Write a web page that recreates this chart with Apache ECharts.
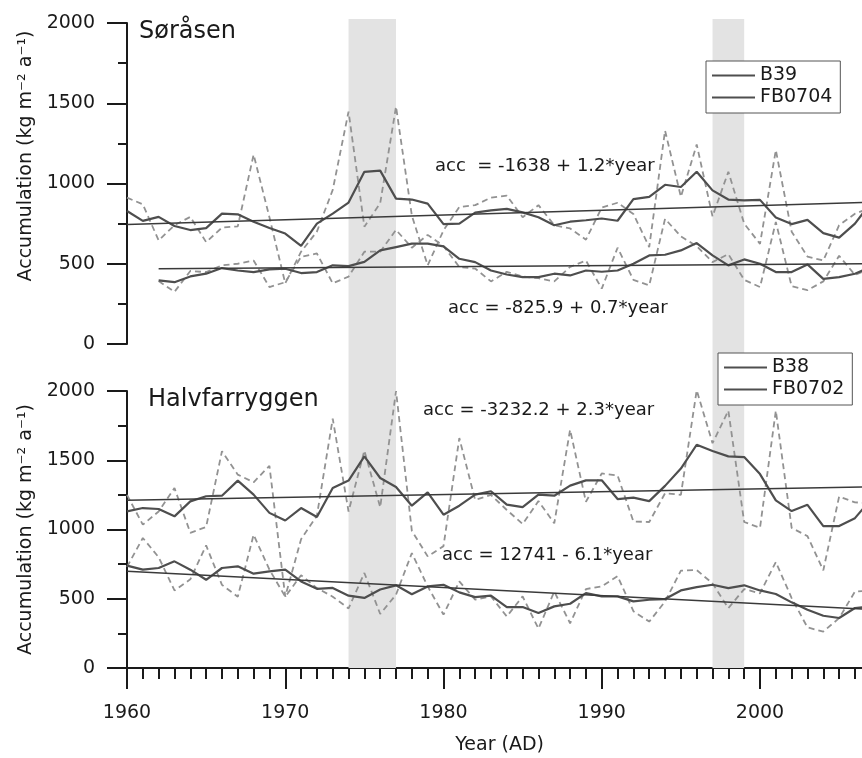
<!DOCTYPE html>
<html>
<head>
<meta charset="utf-8">
<script src="https://cdn.jsdelivr.net/npm/echarts/dist/echarts.min.js"></script>
<style>
  html, body { margin: 0; padding: 0; background: #fff; }
  #chart { width: 862px; height: 758px; }
</style>
</head>
<body>
<div id="chart"></div>
<script>
// years 1960-2007 (the last year runs off the right edge)
var years = [1960, 1961, 1962, 1963, 1964, 1965, 1966, 1967, 1968, 1969,
             1970, 1971, 1972, 1973, 1974, 1975, 1976, 1977, 1978, 1979,
             1980, 1981, 1982, 1983, 1984, 1985, 1986, 1987, 1988, 1989,
             1990, 1991, 1992, 1993, 1994, 1995, 1996, 1997, 1998, 1999,
             2000, 2001, 2002, 2003, 2004, 2005, 2006, 2007];

// Søråsen
var sorasenB39 = [829, 767, 792, 735, 710, 722, 812, 808, 762, 723,
                  688, 612, 750, 812, 881, 1073, 1080, 906, 900, 875,
                  747, 750, 818, 832, 842, 820, 790, 740, 762, 771,
                  782, 768, 903, 917, 992, 978, 1073, 957, 900, 895,
                  898, 788, 747, 773, 691, 663, 750, 880];
var sorasenB39Annual = [912, 870, 645, 740, 792, 635, 725, 733, 1180, 790,
                        378, 575, 700, 960, 1448, 731, 877, 1479, 800, 490,
                        708, 854, 865, 912, 925, 790, 865, 740, 720, 650,
                        850, 880, 810, 604, 1330, 917, 1243, 795, 1073, 750,
                        624, 1208, 700, 545, 520, 740, 812, 850];
var sorasenFB0704 = [null, null, 396, 385, 421, 438, 473, 458, 448, 465,
                     469, 442, 448, 490, 485, 512, 583, 604, 625, 625,
                     608, 531, 510, 458, 433, 417, 417, 438, 427, 458,
                     450, 458, 500, 552, 556, 583, 629, 552, 490, 527,
                     500, 448, 448, 496, 406, 417, 438, 480];
var sorasenFB0704Annual = [null, null, 392, 325, 455, 448, 490, 500, 520, 355,
                           385, 543, 564, 378, 420, 575, 575, 711, 600, 680,
                           610, 480, 470, 390, 450, 420, 410, 390, 480, 520,
                           345, 600, 400, 365, 780, 670, 610, 510, 560, 400,
                           355, 760, 360, 335, 390, 550, 430, 470];
var sorasenTrendB39 = [[1960, 744], [2007, 883]];
var sorasenTrendFB0704 = [[1962, 469], [2007, 500]];

// Halvfarryggen
var halvB38 = [1131, 1155, 1148, 1095, 1203, 1240, 1244, 1353, 1252, 1120,
               1065, 1155, 1090, 1300, 1353, 1528, 1372, 1307, 1172, 1268,
               1107, 1172, 1252, 1276, 1179, 1162, 1252, 1244, 1317, 1355,
               1355, 1220, 1230, 1205, 1315, 1440, 1612, 1567, 1528, 1523,
               1400, 1210, 1133, 1178, 1025, 1025, 1082, 1215];
var halvB38Annual = [1250, 1035, 1130, 1300, 976, 1018, 1565, 1396, 1341, 1460,
                     515, 930, 1100, 1800, 1130, 1570, 1160, 2000, 990, 806,
                     880, 1660, 1213, 1249, 1141, 1040, 1205, 1045, 1720, 1200,
                     1405, 1390, 1058, 1054, 1262, 1250, 2005, 1623, 1858, 1054,
                     1012, 1858, 1012, 952, 705, 1238, 1196, 1190];
var halvFB0702 = [739, 710, 722, 770, 710, 637, 722, 734, 681, 698,
                  710, 625, 572, 578, 522, 506, 567, 597, 532, 589,
                  601, 546, 512, 522, 440, 440, 397, 445, 464, 541,
                  517, 517, 481, 493, 498, 560, 584, 601, 577, 597,
                  560, 534, 474, 421, 377, 361, 433, 445];
var halvFB0702Annual = [730, 939, 800, 560, 640, 885, 600, 515, 962, 710,
                        515, 670, 577, 515, 430, 686, 390, 530, 830, 589,
                        385, 625, 493, 517, 372, 517, 284, 552, 323, 570,
                        590, 663, 410, 335, 480, 703, 707, 611, 432, 570,
                        539, 765, 505, 293, 263, 360, 552, 560];
var halvTrendB38 = [[1960, 1211], [2007, 1308]];
var halvTrendFB0702 = [[1960, 698], [2007, 423]];

// shaded periods
var bands = [[1974, 1977], [1997, 1999]];

var FONT = 'DejaVu Sans';
var INK = '#1a1a1a';
var MEAN = '#4e4e4e';

var chart = echarts.init(document.getElementById('chart'), null, {renderer: 'canvas'});

function pairs(vals) {
    return years.map(function (y, i) { return [y, vals[i]]; });
}

function plain(v) {
    return String(v);
}

function line(name, data, idx, kind) {
    var styles = {
        annual: {color: '#929292', width: 1.8, type: [6, 4]},
        mean:   {color: MEAN, width: 2.2},
        trend:  {color: '#3a3a3a', width: 1.5}
    };
    return {
        name: name,
        type: 'line',
        xAxisIndex: idx,
        yAxisIndex: idx,
        data: data,
        symbol: 'none',
        silent: true,
        z: kind === 'annual' ? 2 : 3,
        lineStyle: styles[kind],
        itemStyle: {color: styles[kind].color}
    };
}

function yAxis(idx, namePad) {
    return {
        gridIndex: idx,
        type: 'value',
        min: 0,
        max: 2000,
        interval: 500,
        axisLine: {show: true, lineStyle: {color: INK, width: 2}},
        axisTick: {show: true, length: 20, lineStyle: {color: INK, width: 2}},
        minorTick: {show: true, splitNumber: 2, length: 9, lineStyle: {color: INK, width: 2}},
        axisLabel: {margin: 32, fontFamily: FONT, fontSize: 19, color: INK, formatter: plain},
        splitLine: {show: false},
        name: 'Accumulation (kg m\u207B\u00B2 a\u207B\u00B9)',
        nameLocation: 'middle',
        nameGap: 66,
        nameTextStyle: {fontFamily: FONT, fontSize: 19, color: INK, padding: namePad}
    };
}

function legend(names, left, top) {
    return {
        data: names,
        left: left,
        top: top,
        orient: 'vertical',
        icon: 'path://M0,0 L43,0 L43,2.2 L0,2.2 Z',
        itemWidth: 43,
        itemHeight: 14,
        itemGap: 3,
        padding: [5, 8, 6, 6],
        backgroundColor: '#fff',
        borderColor: '#555',
        borderWidth: 1,
        selectedMode: false,
        itemStyle: {color: MEAN},
        textStyle: {fontFamily: FONT, fontSize: 19, color: INK}
    };
}

function label(text, x, y, size) {
    return {
        type: 'text',
        x: x,
        y: y,
        silent: true,
        z: 10,
        style: {text: text, fill: INK, fontFamily: FONT, fontSize: size, verticalAlign: 'middle'}
    };
}

var xRange = {type: 'value', min: 1960, max: 2010, interval: 10};

var option = {
    animation: false,
    backgroundColor: '#fff',
    grid: [
        {left: 127, width: 791.25, top: 19, height: 649, outerBoundsMode: 'none'},
        {left: 127, width: 791.25, top: 23, height: 321, outerBoundsMode: 'none'},
        {left: 127, width: 791.25, top: 391, height: 277, outerBoundsMode: 'none'}
    ],
    xAxis: [
        Object.assign({gridIndex: 0, show: false}, xRange),
        Object.assign({gridIndex: 1, show: false}, xRange),
        Object.assign({
            gridIndex: 2,
            axisLine: {show: true, onZero: false, lineStyle: {color: INK, width: 2}},
            axisTick: {show: true, length: 21, lineStyle: {color: INK, width: 2}},
            minorTick: {show: true, splitNumber: 10, length: 11, lineStyle: {color: INK, width: 2}},
            axisLabel: {margin: 36, fontFamily: FONT, fontSize: 19, color: INK, formatter: plain},
            splitLine: {show: false},
            name: 'Year (AD)',
            nameLocation: 'middle',
            nameGap: 68,
            nameTextStyle: {fontFamily: FONT, fontSize: 19, color: INK, padding: [0, 46, 0, 0]}
        }, xRange)
    ],
    yAxis: [
        {gridIndex: 0, type: 'value', min: 0, max: 1, show: false},
        yAxis(1, [0, 0, 0, 55]),
        yAxis(2, 0)
    ],
    legend: [
        legend(['B39', 'FB0704'], 706, 61),
        legend(['B38', 'FB0702'], 718, 353)
    ],
    graphic: [
        label('Søråsen', 139, 32, 24),
        label('Halvfarryggen', 148, 400, 24),
        label('acc  = -1638 + 1.2*year', 435, 166, 18),
        label('acc = -825.9 + 0.7*year', 448, 308, 18),
        label('acc = -3232.2 + 2.3*year', 423, 410, 18),
        label('acc = 12741 - 6.1*year', 442, 555, 18)
    ],
    series: [
        {
            type: 'line',
            xAxisIndex: 0,
            yAxisIndex: 0,
            data: [[1960, 0]],
            symbol: 'none',
            silent: true,
            z: 0,
            lineStyle: {width: 0},
            markArea: {
                silent: true,
                itemStyle: {color: '#e3e3e3'},
                data: bands.map(function (b) { return [{xAxis: b[0]}, {xAxis: b[1]}]; })
            }
        },
        line('B39 annual', pairs(sorasenB39Annual), 1, 'annual'),
        line('FB0704 annual', pairs(sorasenFB0704Annual), 1, 'annual'),
        line('B39', pairs(sorasenB39), 1, 'mean'),
        line('FB0704', pairs(sorasenFB0704), 1, 'mean'),
        line('B39 trend', sorasenTrendB39, 1, 'trend'),
        line('FB0704 trend', sorasenTrendFB0704, 1, 'trend'),
        line('B38 annual', pairs(halvB38Annual), 2, 'annual'),
        line('FB0702 annual', pairs(halvFB0702Annual), 2, 'annual'),
        line('B38', pairs(halvB38), 2, 'mean'),
        line('FB0702', pairs(halvFB0702), 2, 'mean'),
        line('B38 trend', halvTrendB38, 2, 'trend'),
        line('FB0702 trend', halvTrendFB0702, 2, 'trend')
    ]
};

chart.setOption(option);
</script>
</body>
</html>
